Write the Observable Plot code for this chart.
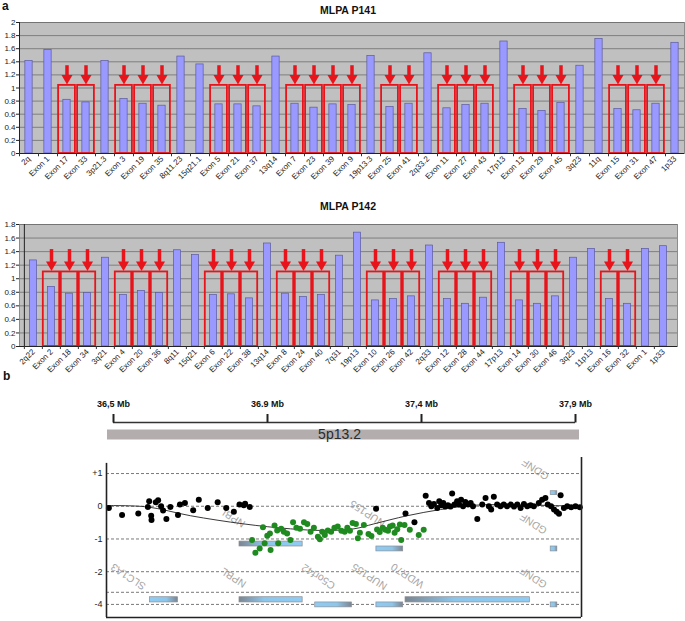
<!DOCTYPE html>
<html><head><meta charset="utf-8">
<script src="https://cdn.jsdelivr.net/npm/d3@7"></script>
<script src="https://cdn.jsdelivr.net/npm/@observablehq/plot@0.6"></script>
<style>
body{margin:0;background:#fff;font-family:"Liberation Sans",Arial,sans-serif;}
#fig{position:relative;width:685px;height:621px;overflow:hidden;background:#fff;}
.abs{position:absolute;}
.ttl{font-weight:bold;font-size:10.5px;color:#111;text-align:center;width:120px;}
.pl{font-weight:bold;font-size:12px;color:#111;}
</style></head><body>
<svg width="0" height="0" style="position:absolute"><defs>
<linearGradient id="gradGB" x1="0" x2="1" y1="0" y2="0"><stop offset="0" stop-color="#7b8591"/><stop offset="0.4" stop-color="#8ec6ea"/><stop offset="1" stop-color="#90cbf3"/></linearGradient>
<linearGradient id="gradBG" x1="0" x2="1" y1="0" y2="0"><stop offset="0" stop-color="#90cbf3"/><stop offset="0.6" stop-color="#8ec6ea"/><stop offset="1" stop-color="#7b8591"/></linearGradient>
</defs></svg>
<div id="fig"></div>
<script>
// ---------- Panel a data ----------
const p141Categories = ["2q","Exon 1","Exon 17","Exon 33","3p21.3","Exon 3","Exon 19","Exon 35","8q11.23","15q21.1","Exon 5","Exon 21","Exon 37","13q14","Exon 7","Exon 23","Exon 39","Exon 9","19p13.3","Exon 25","Exon 41","2q33.2","Exon 11","Exon 27","Exon 43","17p13","Exon 13","Exon 29","Exon 45","3q23","11q","Exon 15","Exon 31","Exon 47","1p33"];
const p141Values = [1.41,1.58,0.82,0.78,1.41,0.83,0.76,0.73,1.48,1.36,0.75,0.75,0.72,1.48,0.76,0.70,0.75,0.74,1.49,0.71,0.76,1.53,0.69,0.74,0.76,1.71,0.68,0.65,0.77,1.34,1.75,0.68,0.66,0.76,1.69];
const p142Categories = ["2q22","Exon 2","Exon 18","Exon 34","3q21","Exon 4","Exon 20","Exon 36","8q11","15q21","Exon 6","Exon 22","Exon 38","13q14","Exon 8","Exon 24","Exon 40","7q31","19p13","Exon 10","Exon 26","Exon 42","2q33","Exon 12","Exon 28","Exon 44","17p13","Exon 14","Exon 30","Exon 46","3q23","11p13","Exon 16","Exon 32","Exon 1","1p33"];
const p142Values = [1.27,0.88,0.78,0.79,1.31,0.76,0.82,0.79,1.42,1.35,0.76,0.77,0.71,1.52,0.78,0.73,0.76,1.34,1.68,0.68,0.70,0.74,1.49,0.70,0.63,0.72,1.53,0.68,0.63,0.74,1.31,1.44,0.70,0.63,1.44,1.48];
const titles = ["MLPA P141","MLPA P142"];

// ---------- Panel b data ----------
const rulerLabels = ["36,5 Mb","36.9 Mb","37,4 Mb","37,9 Mb"];
const bandLabel = "5p13.2";
const bYTicks = [1,0,-1,-2,-3];
const bYLabels = ["+1","0","-1","-2","-4"];
const bDashed = [1,0,-1,-2,-2.63,-3];
const blackX = [36.489,36.529,36.578,36.607,36.611,36.617,36.618,36.631,36.638,36.647,36.653,36.663,36.675,36.698,36.704,36.719,36.744,36.761,36.788,36.818,36.844,36.867,36.884,36.897,36.901,36.915,
  37.297,37.386,37.413,
  37.447,37.457,37.464,37.472,37.482,37.488,37.494,37.500,37.506,37.514,37.522,37.527,37.534,37.542,37.548,37.554,37.560,37.567,37.575,37.583,37.590,37.603,37.618,37.628,37.638,37.645,37.653,37.663,37.673,37.683,37.693,37.704,37.714,37.724,37.734,37.744,37.754,37.764,37.774,37.789,37.799,37.809,37.816,37.826,37.835,37.843,37.850,37.855,37.865,37.875,37.887,37.900,37.913];
const blackY = [-0.05,-0.27,-0.22,-0.02,0.15,-0.29,-0.42,0.12,0.18,0.0,-0.13,-0.39,-0.02,-0.27,0.05,0.10,-0.12,0.20,-0.05,0.12,-0.05,-0.17,0.05,0.03,0.08,-0.02,
  -0.08,-0.22,-0.49,
  0.32,0.10,0.0,0.07,-0.05,0.15,0.03,0.10,-0.01,0.03,-0.01,0.39,0.05,0.15,0.05,0.20,0.0,0.13,0.05,0.10,0.0,-0.39,0.05,0.25,0.0,-0.10,0.29,0.05,0.0,0.05,0.0,0.05,-0.01,0.05,-0.05,0.07,0.0,0.03,0.0,0.10,0.20,0.25,0.05,0.0,-0.10,-0.17,-0.23,0.34,-0.05,0.0,-0.03,0.0,-0.03];
const greenX = [36.922,36.932,36.945,36.955,36.960,36.968,36.976,36.978,36.990,36.998,37.001,37.010,37.018,37.028,37.038,37.046,37.056,37.067,37.079,37.089,37.099,37.109,37.121,37.127,37.134,37.142,37.151,37.161,37.171,37.181,37.192,37.202,37.210,37.218,37.226,37.236,37.242,37.248,37.260,37.274,37.283,37.300,37.308,37.317,37.325,37.333,37.339,37.347,37.353,37.361,37.369,37.373,37.383,37.399,37.426,37.441];
const greenY = [-1.03,-1.42,-1.29,-0.64,-1.13,-0.90,-0.83,-1.34,-0.59,-0.74,-1.13,-0.69,-0.78,-0.83,-1.03,-0.49,-0.66,-0.69,-0.49,-0.54,-0.78,-0.66,-0.93,-1.01,-0.78,-0.88,-0.74,-0.78,-0.66,-0.62,-0.75,-0.78,-0.66,-0.75,-0.51,-0.54,-0.98,-0.81,-0.57,-0.85,-0.91,-0.71,-0.79,-0.66,-0.72,-0.75,-0.62,-0.59,-0.81,-0.70,-0.56,-1.03,-0.57,-0.72,-0.88,-0.72];
const trendX = [36.484,36.605,36.736,36.897,37.038,37.139,37.230,37.290,37.391,37.492,37.593,37.694,37.794,37.915];
const trendY = [0.02,-0.02,-0.29,-0.54,-0.69,-0.74,-0.69,-0.54,-0.29,-0.10,0.03,0.05,0.03,0.0];
const geneNames  = ["NPBL","NUP155","GDNF","GDNF","SLC1A3","NPBL","C5orf42","NUP155","WDR70","GDNF"];
const geneStart  = [36.884,37.298,37.825,37.825,36.613,36.884,37.113,37.298,37.386,37.825];
const geneEnd    = [37.075,37.379,37.845,37.845,36.698,37.075,37.224,37.379,37.762,37.845];
const geneTop    = [-1.08,-1.23,-1.23,0.46,-2.78,-2.78,-2.94,-2.94,-2.78,-2.94];
const geneBottom = [-1.23,-1.38,-1.38,0.34,-2.94,-2.94,-3.09,-3.09,-2.94,-3.09];
const geneGrayLeft = [true,false,false,false,false,true,false,false,true,false];
const labelNames = ["GDNF","GDNF","NPBL","NUP155","SLC1A3","NPBL","C5orf42","NUP155","WDR70","GDNF"];
const labelX = [37.779,37.773,36.863,37.271,36.548,36.866,37.123,37.277,37.392,37.773];
const labelY = [1.13,-0.53,-0.34,-0.22,-2.15,-2.18,-2.15,-2.15,-2.12,-2.18];

const FONT = "Liberation Sans, Arial, sans-serif";
const fig = document.getElementById("fig");
function place(el, top, left = 0) { el.classList.add("abs"); el.style.top = top + "px"; el.style.left = left + "px"; fig.appendChild(el); }
function html(tag, cls, text, top, left) { const e = document.createElement(tag); e.className = cls; e.textContent = text; place(e, top, left); return e; }

// ---------- Panel a ----------
function mlpa(cats, vals, o) {
  const data = cats.map((c, i) => ({cat: c, v: vals[i]}));
  const boxed = data.filter(d => /^Exon/.test(d.cat) && d.v < 1);
  const bw = (685 - o.ml - o.mr) / cats.length;
  const yTicks = d3.range(0, Math.round(o.ymax * 5) + 1).map(k => k / 5);
  return Plot.plot({
    width: 685, height: o.height,
    marginLeft: o.ml, marginRight: o.mr, marginTop: o.mt, marginBottom: o.mb,
    style: {fontFamily: FONT, fontSize: "8px", color: "#222", background: "transparent", overflow: "visible"},
    x: {type: "band", domain: cats, padding: 0, tickSize: 0, tickRotate: -45, tickPadding: 4, label: null},
    y: {domain: [0, o.ymax], ticks: yTicks, tickFormat: d => String(+d.toFixed(1)), tickSize: 3, tickPadding: 1, label: null},
    marks: [
      Plot.frame({fill: "#c0c0c0", stroke: "#8c8c8c"}),
      Plot.ruleY(yTicks.slice(1), {stroke: "#6e6e6e", strokeWidth: 0.8}),
      Plot.barY(data, {x: "cat", y: "v", fill: "#9999ff", stroke: "#5a5a9e", strokeWidth: 0.7, insetLeft: (bw - 7.3) / 2, insetRight: (bw - 7.3) / 2}),
      Plot.barY(boxed, {x: "cat", y1: 0, y2: o.boxTop, fill: "none", stroke: "#e8141b", strokeWidth: 1.8, insetLeft: o.boxInset, insetRight: o.boxInset}),
      Plot.ruleX(boxed, {x: "cat", y1: o.arrowTop, y2: o.arrowTip, stroke: "#e8141b", strokeWidth: 3.5, insetBottom: 7}),
      Plot.dot(boxed, {x: "cat", y: o.arrowTip, dy: -6, symbol: "triangle", rotate: 180, r: 4.1, fill: "#e8141b", stroke: "none"}),
      Plot.ruleY([0], {stroke: "#222", strokeWidth: 1}),
      Plot.ruleX([0], {x: () => cats[0], y1: 0, y2: o.ymax, dx: -bw / 2, stroke: "#222", strokeWidth: 1}),
      Plot.ruleX(cats, {x: d => d, y1: 0, y2: -o.ymax * 0.025, dx: -bw / 2, stroke: "#333"})
    ]
  });
}

html("div", "pl", "a", -1, 2);
place(mlpa(p141Categories, p141Values, {height: 190, ml: 19, mr: 1, mt: 22, mb: 37, ymax: 2, boxTop: 1.04, arrowTop: 1.34, arrowTip: 1.06, boxInset: 1.1}), 0);
html("div", "ttl", titles[0], 4, 288);
place(mlpa(p142Categories, p142Values, {height: 190, ml: 19, mr: 8, mt: 34, mb: 34, ymax: 1.8, boxTop: 1.1, arrowTop: 1.43, arrowTip: 1.12, boxInset: 0.8}), 190);
html("div", "ttl", titles[1], 200, 288);

// ---------- Panel b ----------
html("div", "pl", "b", 369, 3);

const ruler = Plot.plot({
  width: 685, height: 52, marginLeft: 107, marginRight: 106, marginTop: 0, marginBottom: 0,
  style: {fontFamily: FONT, background: "transparent", overflow: "visible"},
  x: {type: "point", domain: rulerLabels, range: [112, 575], padding: 0, axis: null},
  y: {domain: [0, 52], reverse: true, axis: null},
  marks: [
    Plot.ruleY([41], {stroke: "#b3adad", strokeWidth: 10}),
    Plot.text([bandLabel], {y: 41, dx: -4, text: d => d, fontSize: 14, fill: "#2a2a2a"}),
    Plot.ruleY([29], {x1: () => rulerLabels[0], x2: () => rulerLabels[rulerLabels.length - 1], stroke: "#333", strokeWidth: 1.6}),
    Plot.ruleX(rulerLabels, {x: d => d, y1: 21, y2: 29.5, stroke: "#222", strokeWidth: 2}),
    Plot.text(rulerLabels, {x: d => d, y: 10.5, text: d => d, fontSize: 9, fontWeight: "bold", fill: "#111"})
  ]
});
place(ruler, 393);

const pts = (xs, ys) => xs.map((x, i) => ({x, y: ys[i]}));
const genes = geneNames.map((n, i) => ({n, x1: geneStart[i], x2: geneEnd[i], y1: geneBottom[i], y2: geneTop[i], g: geneGrayLeft[i]}));
const labels = labelNames.map((n, i) => ({n, x: labelX[i], y: labelY[i]}));
const xDom = [36.4819, 37.9181], yDom = [-3.4, 1.49];
const yLab = new Map(bYTicks.map((t, i) => [t, bYLabels[i]]));
const cnv = Plot.plot({
  width: 685, height: 171, marginLeft: 106, marginRight: 104, marginTop: 7, marginBottom: 4,
  style: {fontFamily: FONT, fontSize: "9px", color: "#222", background: "transparent", overflow: "visible"},
  x: {domain: xDom, axis: null},
  y: {domain: yDom, ticks: bYTicks, tickFormat: d => yLab.get(d), tickSize: 0, tickPadding: 4, label: null},
  marks: [
    Plot.ruleY(bDashed, {stroke: "#6a6a6a", strokeWidth: 0.9, strokeDasharray: "3,2"}),
    Plot.rect(genes.filter(d => d.g), {x1: "x1", x2: "x2", y1: "y1", y2: "y2", fill: "url(#gradGB)", stroke: "#8a8f96", strokeWidth: 0.7}),
    Plot.rect(genes.filter(d => !d.g), {x1: "x1", x2: "x2", y1: "y1", y2: "y2", fill: "url(#gradBG)", stroke: "#8a8f96", strokeWidth: 0.7}),
    Plot.text(labels, {x: "x", y: "y", text: "n", rotate: 213, fontSize: 10.5, fill: "#a6a6a6"}),
    Plot.line(pts(trendX, trendY), {x: "x", y: "y", curve: "catmull-rom", stroke: "#222", strokeWidth: 0.9}),
    Plot.dot(pts(blackX, blackY), {x: "x", y: "y", r: 3, fill: "#000", stroke: "none"}),
    Plot.dot(pts(greenX, greenY), {x: "x", y: "y", r: 3, fill: "#1f8a1f", stroke: "none"}),
    Plot.ruleX([xDom[0]], {y1: yDom[0], y2: 1.31, stroke: "#222", strokeWidth: 1.6}),
    Plot.ruleX([xDom[1]], {y1: yDom[0], y2: yDom[1], stroke: "#222", strokeWidth: 1.6}),
    Plot.ruleY([yDom[0]], {stroke: "#222", strokeWidth: 1.6})
  ]
});
place(cnv, 450);
</script>
</body></html>
